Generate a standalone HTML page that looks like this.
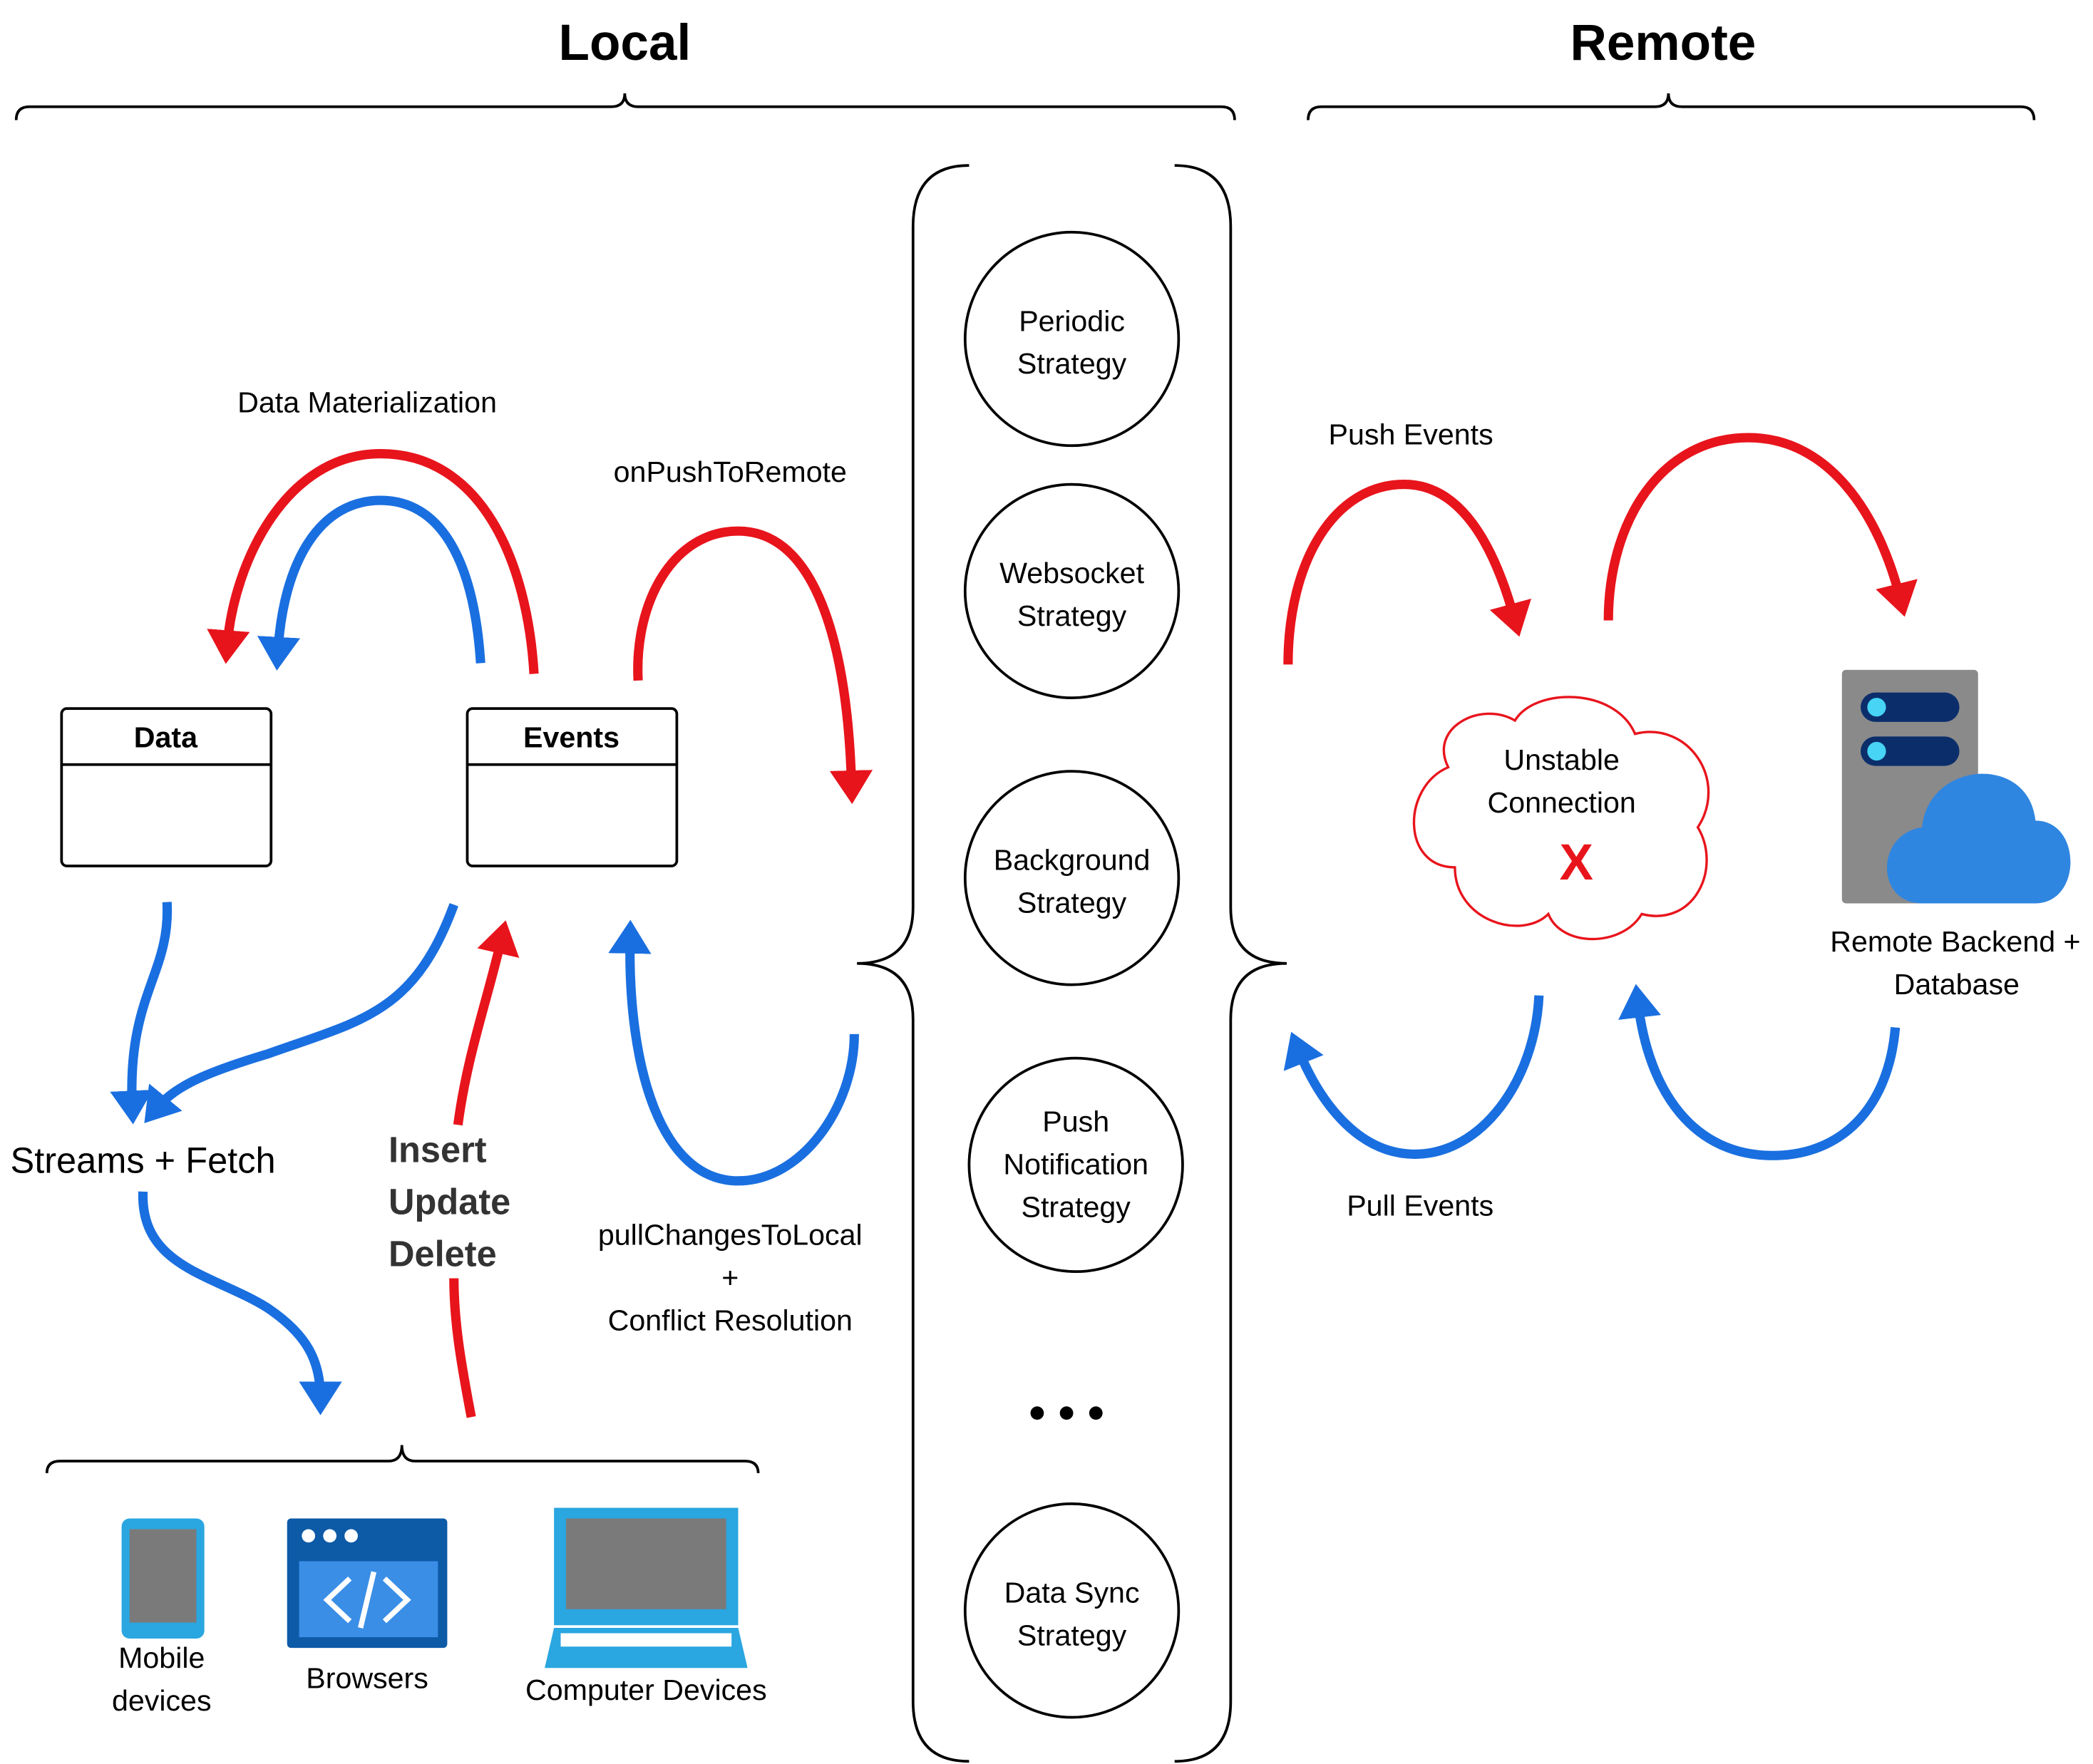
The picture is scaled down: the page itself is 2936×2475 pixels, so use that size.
<!DOCTYPE html>
<html><head><meta charset="utf-8"><style>
html,body{margin:0;padding:0;background:#fff}
svg{display:block}
text{font-family:"Liberation Sans","DejaVu Sans",sans-serif;fill:#000}
</style></head><body>
<svg width="2936" height="2475" viewBox="0 0 1568 1322" xmlns="http://www.w3.org/2000/svg">
<defs>
<marker id="ar" markerWidth="3.6" markerHeight="4.6" refX="1.8" refY="2.3" orient="auto" markerUnits="strokeWidth"><path d="M0,0 L3.6,2.3 L0,4.6 Z" fill="#e8141c"/></marker>
<marker id="ab" markerWidth="3.6" markerHeight="4.6" refX="1.8" refY="2.3" orient="auto" markerUnits="strokeWidth"><path d="M0,0 L3.6,2.3 L0,4.6 Z" fill="#1a6fe0"/></marker>
</defs>
<rect width="1568" height="1322" fill="#fff"/>
<text x="468" y="45" font-size="38" font-weight="bold" text-anchor="middle">Local</text>
<text x="1246" y="45" font-size="38" font-weight="bold" text-anchor="middle">Remote</text>
<g fill="none" stroke="#000" stroke-width="2">
<path d="M12,90 Q12,80 22,80 L458,80 Q468,80 468,70 Q468,80 478,80 L915,80 Q925,80 925,90"/>
<path d="M980,90 Q980,80 990,80 L1240,80 Q1250,80 1250,70 Q1250,80 1260,80 L1514,80 Q1524,80 1524,90"/>
<path d="M35,1104 Q35,1095 45,1095 L291,1095 Q301,1095 301,1083 Q301,1095 311,1095 L558,1095 Q568,1095 568,1104"/>
<path d="M726,124 Q684,124 684,170 L684,680 Q684,722 642,722 Q684,722 684,764 L684,1275 Q684,1320 726,1320"/>
<path d="M880,124 Q922,124 922,170 L922,680 Q922,722 964,722 Q922,722 922,764 L922,1275 Q922,1320 880,1320"/>
<circle cx="803" cy="254" r="80"/><circle cx="803" cy="443" r="80"/><circle cx="803" cy="658" r="80"/><circle cx="806" cy="873" r="80"/><circle cx="803" cy="1207" r="80"/>
<rect x="46" y="531" width="157" height="118" rx="4"/><line x1="46" y1="573" x2="203" y2="573"/>
<rect x="350" y="531" width="157" height="118" rx="4"/><line x1="350" y1="573" x2="507" y2="573"/>
</g>
<path d="M1085,575 C1070,545 1110,525 1135,540 C1150,515 1210,515 1225,550 C1265,540 1295,585 1272,620 C1290,650 1270,695 1230,685 C1215,710 1170,710 1160,685 C1140,705 1090,690 1090,650 C1050,650 1050,590 1085,575 Z" fill="#fff" stroke="#e8141c" stroke-width="1.8"/>
<circle cx="777" cy="1059" r="5"/><circle cx="799" cy="1059" r="5"/><circle cx="821" cy="1059" r="5"/>
<g font-size="22" text-anchor="middle">
<text x="803" y="248">Periodic</text><text x="803" y="280">Strategy</text>
<text x="803" y="437">Websocket</text><text x="803" y="469">Strategy</text>
<text x="803" y="652">Background</text><text x="803" y="684">Strategy</text>
<text x="806" y="848">Push</text><text x="806" y="880">Notification</text><text x="806" y="912">Strategy</text>
<text x="803" y="1201">Data Sync</text><text x="803" y="1233">Strategy</text>
<text x="124" y="560" font-weight="bold">Data</text><text x="428" y="560" font-weight="bold">Events</text>
<text x="275" y="309">Data Materialization</text>
<text x="547" y="361">onPushToRemote</text>
<text x="547" y="933">pullChangesToLocal</text><text x="547" y="965">+</text><text x="547" y="997">Conflict Resolution</text>
<text x="1057" y="333">Push Events</text>
<text x="1064" y="911">Pull Events</text>
<text x="1170" y="577">Unstable</text><text x="1170" y="609">Connection</text>
<text x="1465" y="713">Remote Backend +</text><text x="1466" y="745">Database</text>
<text x="121" y="1250">Mobile</text><text x="121" y="1282">devices</text>
<text x="275" y="1265">Browsers</text>
<text x="484" y="1274">Computer Devices</text>
</g>
<text x="107" y="879" font-size="27" text-anchor="middle">Streams + Fetch</text>
<g font-size="27" font-weight="bold"><text x="291" y="871" style="fill:#333">Insert</text><text x="291" y="910" style="fill:#333">Update</text><text x="291" y="949" style="fill:#333">Delete</text></g>
<g fill="none" stroke-width="7" stroke-linecap="butt">
<path d="M400,505 C395,420 360,340 285,340 C215,340 175,420 170,485" stroke="#e8141c" marker-end="url(#ar)"/>
<path d="M360,497 C355,420 330,375 285,375 C240,375 212,420 208,490" stroke="#1a6fe0" marker-end="url(#ab)"/>
<path d="M478,510 C475,450 505,398 553,398 C610,398 635,480 638,590" stroke="#e8141c" marker-end="url(#ar)"/>
<path d="M640,775 C640,830 600,885 553,885 C495,885 470,800 472,702" stroke="#1a6fe0" marker-end="url(#ab)"/>
<path d="M125,676 C128,730 95,745 99,830" stroke="#1a6fe0" marker-end="url(#ab)"/>
<path d="M340,678 C310,760 270,765 200,790 C150,805 130,815 116,832" stroke="#1a6fe0" marker-end="url(#ab)"/>
<path d="M107,893 C105,950 160,955 200,980 C230,1000 240,1020 240,1048" stroke="#1a6fe0" marker-end="url(#ab)"/>
<path d="M353,1062 C345,1020 340,990 340,958" stroke="#e8141c"/>
<path d="M343,843 C350,790 365,750 376,702" stroke="#e8141c" marker-end="url(#ar)"/>
<path d="M965,498 C965,420 1000,363 1052,363 C1095,363 1120,410 1135,465" stroke="#e8141c" marker-end="url(#ar)"/>
<path d="M1205,465 C1205,390 1245,328 1310,328 C1370,328 1408,385 1424,450" stroke="#e8141c" marker-end="url(#ar)"/>
<path d="M1153,746 C1150,810 1110,865 1060,865 C1020,865 990,830 972,785" stroke="#1a6fe0" marker-end="url(#ab)"/>
<path d="M1420,770 C1415,830 1380,866 1328,866 C1270,866 1235,820 1227,750" stroke="#1a6fe0" marker-end="url(#ab)"/>
</g>
<text x="1181" y="659" font-size="38" font-weight="bold" text-anchor="middle" style="fill:#e8141c">X</text>
<rect x="1380" y="502" width="102" height="175" rx="3" fill="#8a8a8a"/>
<rect x="1394" y="519" width="74" height="22" rx="11" fill="#0b2e6b"/><circle cx="1406" cy="530" r="7" fill="#47d4f5"/>
<rect x="1394" y="552" width="74" height="22" rx="11" fill="#0b2e6b"/><circle cx="1406" cy="563" r="7" fill="#47d4f5"/>
<path d="M1440,677 C1405,677 1405,625 1440,620 C1445,570 1520,565 1525,615 C1560,615 1560,677 1525,677 Z" fill="#2f86e0"/>
<rect x="91" y="1138" width="62" height="90" rx="6" fill="#2aa6e0"/><rect x="97" y="1146" width="50" height="70" fill="#7a7a7a"/>
<rect x="215" y="1138" width="120" height="97" rx="3" fill="#0d5aa7"/>
<rect x="224" y="1170" width="104" height="57" fill="#3a8ee6"/>
<circle cx="231" cy="1151" r="5" fill="#fff"/><circle cx="247" cy="1151" r="5" fill="#fff"/><circle cx="263" cy="1151" r="5" fill="#fff"/>
<path d="M262,1183 L245,1199 L262,1215 M288,1183 L305,1199 L288,1215 M280,1178 L270,1220" stroke="#fff" stroke-width="4" fill="none"/>
<rect x="415" y="1130" width="138" height="88" fill="#2aa6e0"/><rect x="424" y="1138" width="120" height="68" fill="#7a7a7a"/>
<path d="M415,1220 L553,1220 L560,1250 L408,1250 Z" fill="#2aa6e0"/><rect x="420" y="1224" width="128" height="10" fill="#fff"/>
</svg>
</body></html>
